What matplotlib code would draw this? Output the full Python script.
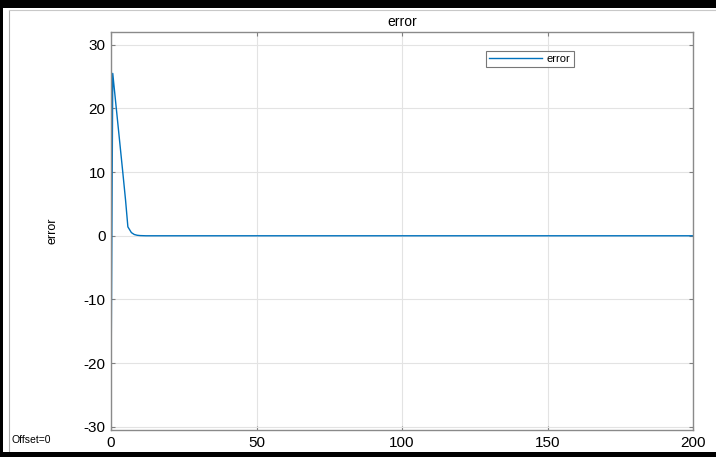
import matplotlib.pyplot as plt
from matplotlib.patches import Rectangle
from matplotlib.lines import Line2D

plt.rcParams['font.family'] = ['Liberation Sans', 'DejaVu Sans']
plt.rcParams['axes.unicode_minus'] = False

# --- data ---
t = [0, 0.6, 2, 3, 4, 5, 5.8, 7, 8, 9, 10, 12, 15, 200]
err = [-24.5, 25.5, 19.2, 14.7, 10.2, 5.6, 1.4, 0.5, 0.2, 0.08, 0.03, 0.0, 0.0, 0.0]

x_ticks = [0, 50, 100, 150, 200]
y_ticks = [-30, -20, -10, 0, 10, 20, 30]

fig = plt.figure(figsize=(7.16, 4.57), dpi=100)
fig.patch.set_facecolor('white')

# window frame decoration (black bars + thin gray inner border)
fig.patches.append(Rectangle((0, 1 - 8 / 457), 1, 8 / 457, transform=fig.transFigure,
                             facecolor='black', edgecolor='none', zorder=10))
fig.patches.append(Rectangle((0, 0), 1, 5 / 457, transform=fig.transFigure,
                             facecolor='black', edgecolor='none', zorder=10))
fig.patches.append(Rectangle((0, 0), 3 / 716, 1, transform=fig.transFigure,
                             facecolor='black', edgecolor='none', zorder=10))
fig.lines.append(Line2D([9 / 716, 9 / 716], [5 / 457, 1 - 10 / 457], transform=fig.transFigure,
                        color='#b0b0b0', linewidth=0.8))
fig.lines.append(Line2D([9 / 716, 1], [1 - 10 / 457, 1 - 10 / 457], transform=fig.transFigure,
                        color='#c8c8c8', linewidth=0.8))

ax = fig.add_axes([111 / 716, 1 - 430 / 457, 582 / 716, 398 / 457])
ax.plot(t, err, color='#0072BD', linewidth=1.0, label='error')

ax.set_xlim(0, 200)
ax.set_ylim(-30.5, 32)
ax.set_xticks(x_ticks)
ax.set_yticks(y_ticks)
ax.grid(True, color='#e3e3e3', linewidth=0.8)
ax.set_axisbelow(True)
ax.tick_params(direction='in', length=3, top=True, right=True, labelsize=11,
               color='#808080', pad=4)
for s in ax.spines.values():
    s.set_color('#8a8a8a')
    s.set_linewidth(1.0)

ax.set_title('error', fontsize=10, pad=4)
ax.set_ylabel('error', fontsize=9, labelpad=18)

leg = ax.legend(loc='upper left', bbox_to_anchor=(0.634, 0.967), fontsize=8,
                handlelength=4.8, frameon=True, fancybox=False, borderpad=0.3,
                handletextpad=0.4)
leg.get_frame().set_edgecolor('#555555')
leg.get_frame().set_linewidth(0.8)

fig.text(12 / 716, 1 - 440 / 457, 'Offset=0', fontsize=7.5, va='center', ha='left')

fig.savefig('out.png', dpi=100)
